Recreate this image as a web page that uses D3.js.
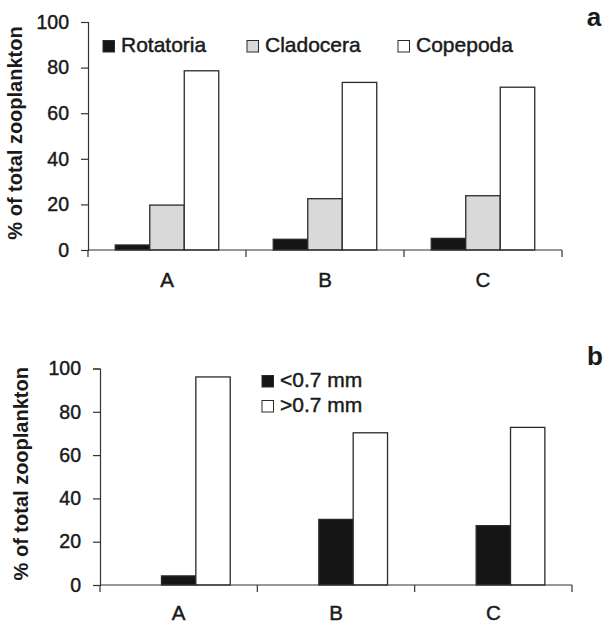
<!DOCTYPE html>
<html>
<head>
<meta charset="utf-8">
<script src="https://cdn.jsdelivr.net/npm/d3@7/dist/d3.min.js"></script>
<style>
  body { margin: 0; background: #fff; }
  svg { display: block; font-family: "Liberation Sans", Arial, sans-serif; }
  .heavy { stroke: #1a1a1a; stroke-width: 0.45px; paint-order: stroke; }
</style>
</head>
<body>
<div id="chart"></div>
<script>
// sites on the x axis
const sites = ['A', 'B', 'C'];

// panel a: taxonomic groups
const taxa = ['Rotatoria', 'Cladocera', 'Copepoda'];
const rotatoria = [2.2, 4.7, 5.1];
const cladocera = [19.7, 22.5, 23.8];
const copepoda = [78.6, 73.5, 71.4];

// panel b: size classes (first slot of each group left empty, as in the original)
const sizeSlots = ['', '<0.7 mm', '>0.7 mm'];
const sizeClasses = ['<0.7 mm', '>0.7 mm'];
const small = [4.2, 30.3, 27.4];
const large = [96.1, 70.3, 72.8];

const yTicks = [0, 20, 40, 60, 80, 100];
const yTitle = '% of total zooplankton';

const W = 603, H = 624;
const svg = d3.select('#chart').append('svg')
  .attr('width', W)
  .attr('height', H)
  .attr('viewBox', [0, 0, W, H]);

const AXIS = '#333';
const fills = { 'Rotatoria': '#151515', 'Cladocera': '#d9d9d9', 'Copepoda': '#fff', '<0.7 mm': '#151515', '>0.7 mm': '#fff' };

function drawPanel(opts) {
  const { left, right, top, bottom, slots, rows, titleX, labelY } = opts;
  const g = svg.append('g');

  const x0 = d3.scaleBand().domain(sites).range([left, right]).padding(0);
  const x1 = d3.scaleBand().domain(slots).range([0, x0.bandwidth()]).paddingInner(0).paddingOuter(0.79);
  const y = d3.scaleLinear().domain([0, 100]).range([bottom, top]);

  // bars
  sites.forEach((site, i) => {
    rows.forEach((r) => {
      const v = r.values[i];
      g.append('rect')
        .attr('x', x0(site) + x1(r.key))
        .attr('y', y(v))
        .attr('width', x1.bandwidth())
        .attr('height', y(0) - y(v))
        .attr('fill', fills[r.key])
        .attr('stroke', '#2a2a2a')
        .attr('stroke-width', 1.3);
    });
  });

  // y axis
  const yAxis = g.append('g')
    .attr('transform', `translate(${left},0)`)
    .call(d3.axisLeft(y).tickValues(yTicks).tickSize(7).tickPadding(12));
  yAxis.select('.domain').attr('stroke', AXIS).attr('stroke-width', 1.2);
  yAxis.selectAll('.tick line').attr('stroke', AXIS).attr('stroke-width', 1.2);
  yAxis.selectAll('.tick text')
    .attr('class', 'heavy')
    .attr('font-size', 19.5)
    .attr('fill', '#1a1a1a')
    .attr('font-family', '"Liberation Sans", Arial, sans-serif');

  // x axis: baseline with ticks at group boundaries
  g.append('line')
    .attr('x1', left).attr('x2', right)
    .attr('y1', y(0)).attr('y2', y(0))
    .attr('stroke', AXIS).attr('stroke-width', 1.2);
  const bounds = sites.map((s) => x0(s)).concat([right]);
  g.selectAll('line.xtick')
    .data(bounds)
    .join('line')
    .attr('class', 'xtick')
    .attr('x1', (d) => d).attr('x2', (d) => d)
    .attr('y1', y(0)).attr('y2', y(0) + 7)
    .attr('stroke', AXIS).attr('stroke-width', 1.2);
  g.selectAll('text.xlab')
    .data(sites)
    .join('text')
    .attr('class', 'xlab heavy')
    .attr('x', (d) => x0(d) + x0.bandwidth() / 2)
    .attr('y', labelY)
    .attr('text-anchor', 'middle')
    .attr('font-size', 20.5)
    .attr('fill', '#1a1a1a')
    .text((d) => d);

  // y title
  g.append('text')
    .attr('transform', `translate(${titleX},${(top + bottom) / 2 - 3}) rotate(-90)`)
    .attr('text-anchor', 'middle')
    .attr('dominant-baseline', 'central')
    .attr('font-size', 20)
    .attr('font-weight', 'bold')
    .attr('fill', '#1a1a1a')
    .text(yTitle);

  return g;
}

function legendItem(g, x, baseline, key) {
  g.append('rect')
    .attr('x', x).attr('y', baseline - 11.5)
    .attr('width', 11.5).attr('height', 11.5)
    .attr('fill', fills[key])
    .attr('stroke', '#2a2a2a').attr('stroke-width', 1);
  g.append('text')
    .attr('class', 'heavy')
    .attr('x', x + 18).attr('y', baseline)
    .attr('font-size', 21)
    .attr('fill', '#1a1a1a')
    .text(key);
}

// panel a
const ga = drawPanel({
  left: 88, right: 562, top: 22, bottom: 250,
  slots: taxa,
  rows: [
    { key: 'Rotatoria', values: rotatoria },
    { key: 'Cladocera', values: cladocera },
    { key: 'Copepoda', values: copepoda }
  ],
  titleX: 15, labelY: 287
});
[[103, 'Rotatoria'], [247, 'Cladocera'], [398, 'Copepoda']].forEach(([x, k]) => legendItem(ga, x, 52, k));
ga.append('text')
  .attr('x', 594).attr('y', 26)
  .attr('text-anchor', 'middle')
  .attr('font-size', 26).attr('font-weight', 'bold')
  .attr('fill', '#1a1a1a')
  .text('a');

// panel b
const gb = drawPanel({
  left: 100, right: 572, top: 368.5, bottom: 585,
  slots: sizeSlots,
  rows: [
    { key: '<0.7 mm', values: small },
    { key: '>0.7 mm', values: large }
  ],
  titleX: 21, labelY: 620
});
sizeClasses.forEach((k, i) => legendItem(gb, 262, 387 + i * 25, k));
gb.append('text')
  .attr('x', 595).attr('y', 365)
  .attr('text-anchor', 'middle')
  .attr('font-size', 26).attr('font-weight', 'bold')
  .attr('fill', '#1a1a1a')
  .text('b');
</script>
</body>
</html>
